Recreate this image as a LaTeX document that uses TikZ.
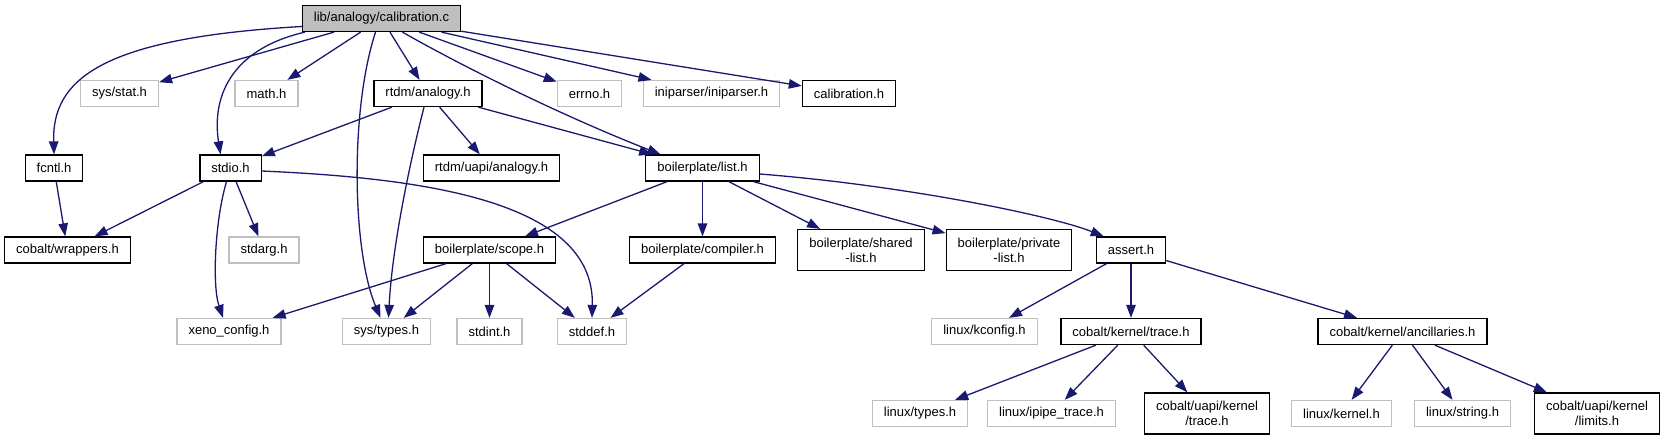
\documentclass[tikz,border=0pt]{standalone}
\usepackage{fontspec}
\setmainfont{Liberation Sans}
\usetikzlibrary{arrows.meta}
\definecolor{edgeblue}{HTML}{191970}
\definecolor{extgray}{HTML}{BFBFBF}
\tikzset{
  incnode/.style={
    draw=black,
    line width=1.3pt,
    fill=white,
    inner xsep=11.5pt,
    inner ysep=0pt,
    minimum height=26pt,
    align=center,
    font=\fontsize{13}{15}\selectfont
  },
  extnode/.style={
    incnode,
    draw=extgray
  },
  rootnode/.style={
    incnode,
    fill=extgray
  },
  twoline/.style={
    minimum height=41pt
  },
  incarrow/.style={
    -{Triangle[length=13pt,width=9.5pt]},
    line width=1.3pt,
    draw=edgeblue
  }
}
\begin{document}
\begin{tikzpicture}[x=1pt, y=-1pt]
    \useasboundingbox (0,0) rectangle (1665,440);
    % rank 0
    \node[rootnode] (calib) at (381.5,18.5) {lib/analogy/calibration.c};
    % rank 1
    \node[extnode] (sysstat) at (119.5,93.5) {sys/stat.h};
    \node[extnode] (mathh) at (266.5,93.5) {math.h};
    \node[incnode] (rtdmana) at (428,93.5) {rtdm/analogy.h};
    \node[extnode] (errnoh) at (589.5,93.5) {errno.h};
    \node[extnode] (inip) at (711.5,93.5) {iniparser/iniparser.h};
    \node[incnode] (calibh) at (849,93.5) {calibration.h};
    % rank 2
    \node[incnode] (fcntl) at (54,168) {fcntl.h};
    \node[incnode] (stdioh) at (230.5,168) {stdio.h};
    \node[incnode] (uapiana) at (491.5,168) {rtdm/uapi/analogy.h};
    \node[incnode] (bplist) at (702.5,168) {boilerplate/list.h};
    % rank 3
    \node[incnode] (wrappers) at (67.5,250) {cobalt/wrappers.h};
    \node[extnode] (stdargh) at (264,250) {stdarg.h};
    \node[incnode] (scope) at (489.5,250) {boilerplate/scope.h};
    \node[incnode] (compiler) at (702.5,250) {boilerplate/compiler.h};
    \node[incnode, twoline] (shared) at (861,250) {boilerplate/shared\\-list.h};
    \node[incnode, twoline] (private) at (1009,250) {boilerplate/private\\-list.h};
    \node[incnode] (asserth) at (1131,250) {assert.h};
    % rank 4
    \node[extnode] (xeno) at (229,331.5) {xeno\_config.h};
    \node[extnode] (systypes) at (386.5,331.5) {sys/types.h};
    \node[extnode] (stdinth) at (489.5,331.5) {stdint.h};
    \node[extnode] (stddefh) at (592,331.5) {stddef.h};
    \node[extnode] (kconfig) at (984.5,331.5) {linux/kconfig.h};
    \node[incnode] (ktrace) at (1131,331.5) {cobalt/kernel/trace.h};
    \node[incnode] (ancill) at (1402.5,331.5) {cobalt/kernel/ancillaries.h};
    % rank 5
    \node[extnode] (ltypes) at (920,413.5) {linux/types.h};
    \node[extnode] (ipipe) at (1051.5,413.5) {linux/ipipe\_trace.h};
    \node[incnode, twoline] (utrace) at (1207,413.5) {cobalt/uapi/kernel\\/trace.h};
    \node[extnode] (lkernel) at (1341.5,413.5) {linux/kernel.h};
    \node[extnode] (lstring) at (1462.5,413.5) {linux/string.h};
    \node[incnode, twoline] (ulimits) at (1597,413.5) {cobalt/uapi/kernel\\/limits.h};
    % straight includes
    \foreach \a/\b in {calib/sysstat,calib/mathh,calib/rtdmana,calib/errnoh,calib/inip,calib/calibh,
      rtdmana/stdioh,rtdmana/uapiana,rtdmana/bplist,fcntl/wrappers,stdioh/wrappers,stdioh/stdargh,
      bplist/scope,bplist/compiler,bplist/shared,bplist/private,
      scope/xeno,scope/systypes,scope/stdinth,scope/stddefh,compiler/stddefh,
      asserth/kconfig,asserth/ktrace,asserth/ancill,
      ktrace/ltypes,ktrace/ipipe,ktrace/utrace,ancill/lkernel,ancill/lstring,ancill/ulimits}
      \draw[incarrow] (\a) -- (\b);
    % curved includes
    \draw[incarrow] ([yshift=-8pt]calib.west) .. controls (100,38) and (52,80) .. (fcntl.north);
    \draw[incarrow] ([xshift=3pt]calib.south west) .. controls (228,50) and (212,100) .. ([xshift=-10pt]stdioh.north);
    \draw[incarrow] ([xshift=-6pt]calib.south) .. controls (350,110) and (352,250) .. ([xshift=-6pt]systypes.north);
    \draw[incarrow] ([xshift=-4pt]rtdmana.south) .. controls (408,170) and (392,250) .. ([xshift=2pt]systypes.north);
    \draw[incarrow] ([xshift=21pt]calib.south) .. controls (460,65) and (560,115) .. ([xshift=-42pt]bplist.north);
    \draw[incarrow] ([xshift=-4pt]stdioh.south) .. controls (215,220) and (212,285) .. ([xshift=-6pt]xeno.north);
    \draw[incarrow] ([yshift=-3pt]stdioh.east) .. controls (420,178) and (595,200) .. (stddefh.north);
    \draw[incarrow] ([yshift=-6pt]bplist.east) .. controls (900,185) and (1050,215) .. ([xshift=8pt]asserth.north west);
  \end{tikzpicture}
\end{document}
